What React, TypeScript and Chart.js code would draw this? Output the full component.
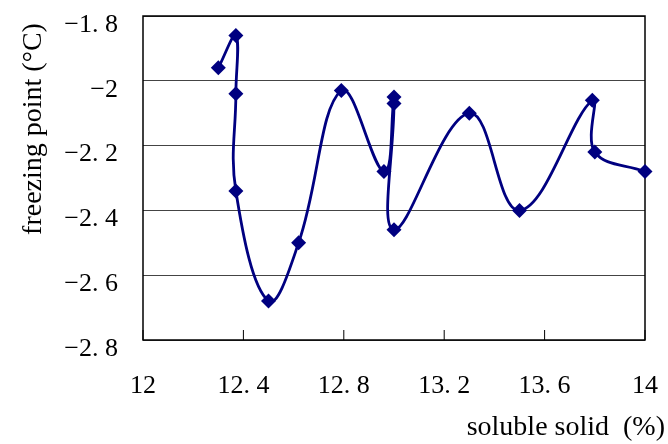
import React, { useEffect, useRef } from 'react';
import { Chart, registerables } from 'chart.js';

Chart.register(...registerables);

const solubleSolid = [12.30, 12.37, 12.37, 12.37, 12.50, 12.62, 12.79, 12.96, 13.00, 13.00, 13.00, 13.30, 13.50, 13.79, 13.80, 14.00];
const freezingPoint = [-1.96, -1.86, -2.04, -2.34, -2.68, -2.50, -2.03, -2.28, -2.05, -2.07, -2.46, -2.10, -2.40, -2.06, -2.22, -2.28];
const xTickValues = [12, 12.4, 12.8, 13.2, 13.6, 14];
const yTickValues = [-2.8, -2.6, -2.4, -2.2, -2, -1.8];
const xTitle = 'soluble solid  (%)';
const yTitle = 'freezing point (°C)';

const FONT = '"Liberation Serif", "DejaVu Serif", serif';

function fmt(v: number): string {
  const r = Math.round(v * 10) / 10;
  let s = Math.abs(r).toString();
  if (s.includes('.')) s = s.replace('.', '. ');
  return (r < 0 ? '\u2212' : '') + s;
}

function zeroPad(s: any) {
  s.paddingTop = 0;
  s.paddingBottom = 0;
  s.paddingLeft = 0;
  s.paddingRight = 0;
}

const decor = {
  id: 'decor',
  beforeDatasetsDraw(chart: any) {
    const { ctx, chartArea } = chart;
    const { left, right, top, bottom } = chartArea;
    ctx.save();
    ctx.strokeStyle = '#000';
    ctx.lineWidth = 1.5;
    ctx.strokeRect(left, top, right - left, bottom - top);
    const xs = chart.scales.x;
    ctx.lineWidth = 1;
    xs.ticks.forEach((t: any) => {
      const px = xs.getPixelForValue(t.value);
      ctx.beginPath();
      ctx.moveTo(px, bottom);
      ctx.lineTo(px, bottom - 10);
      ctx.stroke();
    });
    ctx.restore();
  },
  afterDraw(chart: any) {
    const { ctx, chartArea } = chart;
    const { left, right, top, bottom } = chartArea;
    ctx.save();
    ctx.fillStyle = '#000';
    ctx.font = `28px ${FONT}`;
    ctx.textAlign = 'right';
    ctx.textBaseline = 'middle';
    ctx.fillText(xTitle, right + 20, bottom + 88);
    ctx.translate(left - 109, top + 113);
    ctx.rotate(-Math.PI / 2);
    ctx.textAlign = 'center';
    ctx.font = `28px ${FONT}`;
    ctx.fillText(yTitle, 0, 0);
    ctx.restore();
  },
};

export default function App() {
  const ref = useRef<HTMLCanvasElement | null>(null);
  useEffect(() => {
    document.body.style.margin = '0';
    const canvas = ref.current!;
    const chart = new Chart(canvas, {
      type: 'line',
      data: {
        datasets: [
          {
            data: solubleSolid.map((x, i) => ({ x, y: freezingPoint[i] })),
            borderColor: '#000080',
            backgroundColor: '#000080',
            borderWidth: 2.8,
            pointStyle: 'rectRot',
            pointRadius: 7.5,
            pointBackgroundColor: '#000080',
            pointBorderColor: '#000080',
            pointBorderWidth: 0,
            tension: 0.4,
            clip: false as any,
          },
        ],
      },
      options: {
        responsive: false,
        animation: false,
        layout: { padding: { top: 16, right: 23, left: 0, bottom: 0 } },
        plugins: { legend: { display: false }, tooltip: { enabled: false } },
        scales: {
          x: {
            type: 'linear',
            min: 12,
            max: 14,
            afterBuildTicks: (s: any) => {
              s.ticks = xTickValues.map((v) => ({ value: v }));
            },
            afterFit: (s: any) => {
              s.height = 104;
              zeroPad(s);
            },
            grid: { display: false, drawTicks: false },
            border: { display: false },
            ticks: {
              color: '#000',
              font: { family: FONT, size: 26 },
              padding: 31,
              maxRotation: 0,
              autoSkip: false,
              callback: (v: any) => fmt(Number(v)),
            },
          },
          y: {
            type: 'linear',
            min: -2.8,
            max: -1.8,
            afterBuildTicks: (s: any) => {
              s.ticks = yTickValues.map((v) => ({ value: v }));
            },
            afterFit: (s: any) => {
              s.width = 143;
              zeroPad(s);
            },
            grid: { display: true, color: '#444', lineWidth: 1, drawTicks: false },
            border: { display: false },
            ticks: {
              color: '#000',
              font: { family: FONT, size: 26 },
              padding: 25,
              labelOffset: 9,
              autoSkip: false,
              callback: (v: any) => fmt(Number(v)),
            },
          },
        },
      },
      plugins: [decor],
    });
    return () => chart.destroy();
  }, []);
  return (
    <div style={{ width: 668, height: 444 }}>
      <canvas ref={ref} width={668} height={444} />
    </div>
  );
}
